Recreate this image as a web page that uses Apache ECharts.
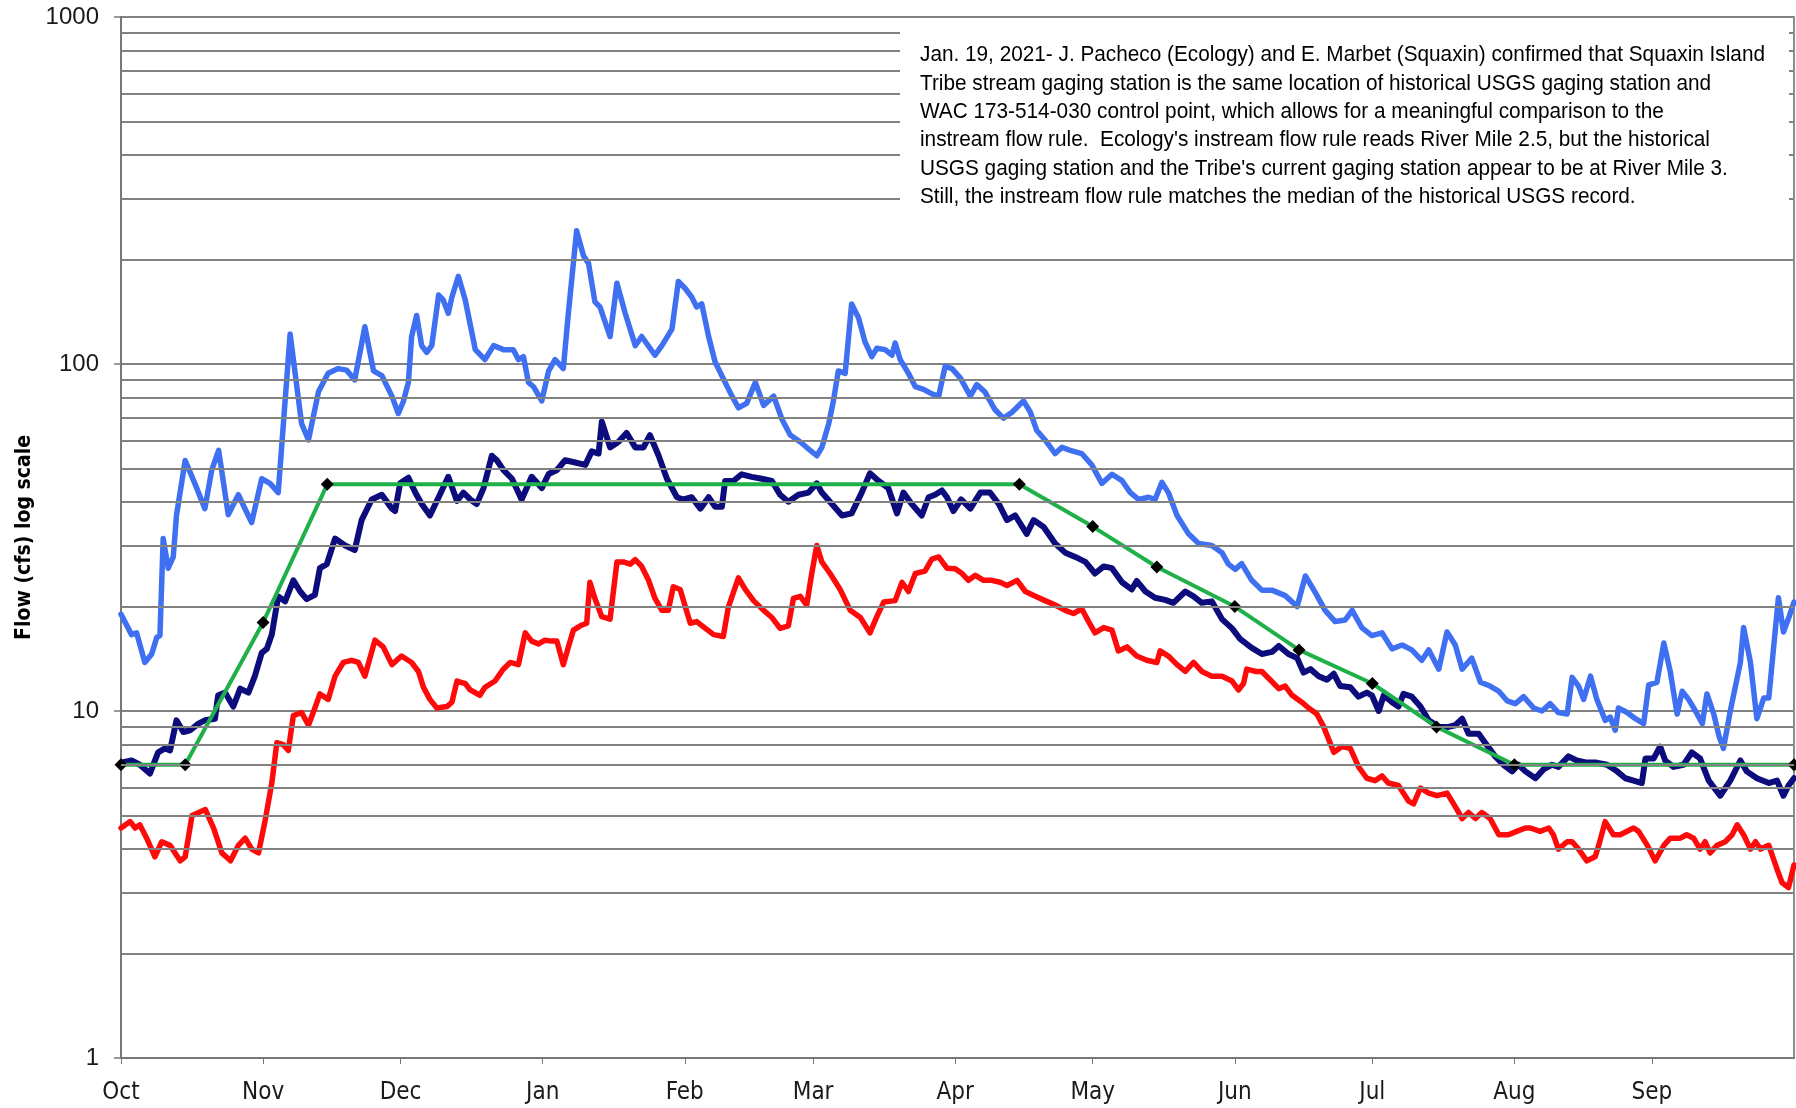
<!DOCTYPE html>
<html>
<head>
<meta charset="utf-8">
<script src="https://cdn.jsdelivr.net/npm/echarts@6/dist/echarts.min.js"></script>
<style>
html,body{margin:0;padding:0;background:#ffffff;}
#chart{width:1796px;height:1108px;}
</style>
</head>
<body>
<div id="chart"></div>
<script>
// ---- Data (x = day of water year, Oct 1 = 0) ----
const monthLabels = ['Oct','Nov','Dec','Jan','Feb','Mar','Apr','May','Jun','Jul','Aug','Sep'];
const monthStartDays = [0,31,61,92,123,151,182,212,243,273,304,334];
const minorGridValues = [2,3,4,5,6,7,8,9,20,30,40,50,60,70,80,90,200,300,400,500,600,700,800,900];

const highFlow = [[0,19.0],[2.3,16.6],[3.4,16.8],[5.2,13.8],[6.7,14.6],[7.8,16.3],[8.5,16.5],[9.2,31.4],[10.3,25.8],[11.4,27.8],[12.1,36.6],[14.0,52.7],[16.1,45.3],[18.3,38.3],[19.8,49.5],[21.3,56.4],[23.4,36.8],[25.6,42.0],[28.5,34.9],[30.7,46.7],[32.5,45.3],[34.3,42.6],[36.9,122],[39.4,67.3],[40.9,60.4],[43.1,83.3],[45.2,94.1],[47.4,97],[49.2,96],[51.0,90],[53.2,128],[55.1,95.5],[56.9,92.6],[59.1,80.8],[60.5,72],[61.6,78],[62.7,88.5],[63.4,120],[64.5,138],[65.6,113],[66.7,108],[67.8,113],[69.3,158],[70.3,153],[71.4,140],[72.2,156],[73.6,179],[75.1,153],[77.3,110],[79.4,103],[81.3,113],[83.4,110],[85.6,110],[86.7,103],[87.8,105],[88.9,88.5],[90,86],[91.8,78.3],[93.3,95.5],[94.7,103],[96.5,97],[97.6,140],[99.4,242],[100.9,205],[102,195],[103.4,151],[104.5,146],[106.7,120],[108.2,171],[110,140],[112.2,113],[113.6,120],[116.5,106],[118,113],[120.2,126],[121.6,173],[123.1,165],[124.5,156],[125.6,146],[126.7,149],[128.2,120],[129.6,101.5],[131.8,88.5],[133.3,80.8],[134.7,74.8],[136.5,77],[138.4,88.5],[140.2,76],[142.4,80.8],[144.2,69.3],[146,62.4],[148.2,59.6],[150,56.9],[151.8,54.4],[152.9,57.5],[154.4,67.3],[155.4,77.9],[156.5,95.5],[158,94],[159.4,149],[160.9,136],[162.3,116],[163.8,105],[164.9,111],[166.7,110],[168.2,106],[168.9,115],[170,103],[171.8,94],[173.3,86],[175.1,84.5],[176.9,82],[178.4,80.8],[179.8,98.5],[181.3,97],[183.1,91.2],[185.3,80.8],[186.7,87.2],[188.5,83],[190.7,73.8],[192.5,69.8],[194.4,72.6],[196.9,78.3],[198.4,72.6],[199.8,64.3],[201.6,60.4],[203.8,55.2],[205.3,57.5],[207.1,56.4],[209.6,55.2],[211.8,51.2],[214,45.3],[216.2,48.1],[218.4,46.1],[220.2,42.6],[222,40.7],[224.2,41.3],[225.6,40.7],[227.1,45.6],[228.5,42.6],[230.4,36.6],[232.9,32.4],[235.1,30.4],[238,30],[240.2,28.6],[241.6,26.5],[243.1,25.6],[244.5,26.6],[246.7,23.8],[248.9,22.3],[251.1,22.3],[254,21.5],[256.6,20],[258.4,24.5],[260.6,21.9],[262.7,19.5],[264.9,18.1],[267.1,18.3],[268.6,19.5],[270.7,17.4],[272.9,16.5],[275.1,16.8],[277.3,15.1],[279.5,15.5],[281.6,15],[283.8,14],[285.3,15],[287.5,13.2],[289.3,16.9],[291.1,15.5],[292.6,13.2],[294.7,14.2],[296.6,12.1],[298.7,11.8],[300.6,11.4],[302.4,10.7],[304.2,10.5],[306,11.0],[308.2,10.2],[310,10.0],[311.8,10.5],[313.6,9.9],[315.5,9.8],[316.6,12.5],[318,11.8],[319.1,10.8],[320.6,12.6],[322,10.8],[323.8,9.4],[324.9,9.6],[326,8.8],[326.7,10.2],[328.6,9.9],[330.4,9.5],[332.2,9.2],[333.3,11.9],[335.1,12.1],[336.6,15.7],[338,13.0],[339.5,9.8],[340.6,11.4],[342,10.8],[343.5,10.0],[345,9.2],[346,11.2],[347.5,9.8],[348.6,8.5],[349.6,7.8],[351.1,10.0],[353.3,13.8],[354,17.4],[355.5,13.8],[356.9,9.5],[358.4,10.9],[359.5,10.9],[360.6,15.5],[361.6,21.2],[362.7,16.9],[363.8,18.5],[365,20.6]];

const medianFlow = [[0,7.1],[2.3,7.2],[4.1,7.0],[6.3,6.6],[8.1,7.6],[9.6,7.8],[10.7,7.7],[12.1,9.4],[13.6,8.7],[15.1,8.8],[16.9,9.2],[18.3,9.4],[20.5,9.5],[21.2,11.1],[22.7,11.3],[24.5,10.3],[26,11.6],[27.8,11.3],[29.2,12.6],[30.7,14.7],[31.8,15.1],[32.9,16.6],[34.3,21.4],[35.8,20.7],[37.6,23.8],[39.1,22.1],[40.5,21],[42.3,21.6],[43.4,25.8],[44.9,26.5],[46.7,31.4],[48.9,30],[51,29.1],[52.5,35.5],[54.7,40.7],[56.9,42],[59.1,38.3],[59.8,37.7],[60.9,45.3],[62.7,47],[64.2,42.6],[65.6,39.5],[67.4,36.6],[69.3,41.3],[71.4,47.3],[73.3,40.3],[74.7,42.6],[76.2,40.7],[77.6,39.5],[79.1,43.9],[80.9,54.4],[82,52.8],[83.4,49.5],[85.3,46.7],[87.4,40.7],[89.6,47.3],[91.8,43.9],[93.3,48.2],[95.1,49.5],[96.9,52.8],[99.1,52],[101.3,51.2],[102.7,56],[104.2,55.2],[104.9,68.2],[106.7,57.5],[108.5,59.6],[110.3,63.3],[112.2,57.5],[114,57.5],[115.4,62.4],[117.3,54.4],[119.1,46.7],[121.3,41.3],[122.7,40.7],[124.5,41.3],[126.4,38.3],[128.2,41.3],[129.6,38.8],[131.1,38.8],[131.8,46],[133.6,46],[135.4,48.1],[137.6,47.3],[139.8,46.7],[142,46],[143.8,42],[145.6,40.1],[147.8,42],[150,42.6],[151.8,45.3],[152.9,42.6],[155.1,39.5],[157.3,36.6],[159.4,37.1],[161.6,42.6],[163.4,48.4],[165.3,46],[167.4,43.9],[169.3,37.1],[170.7,42.6],[172.5,39.5],[174.7,36.6],[176.2,41.3],[177.6,42],[179.1,43.2],[180.2,41.3],[181.6,37.7],[183.3,40.7],[185.3,38.3],[187.5,42.6],[189.6,42.6],[191.5,39.5],[193.3,35.5],[195.1,36.6],[197.6,32.4],[199.1,35.5],[201.3,33.9],[203.8,30.4],[206,28.6],[208.2,27.8],[210.4,26.9],[212.5,24.9],[214.4,26.1],[216.2,25.8],[218.4,23.5],[220.5,22.4],[221.6,23.7],[223.5,22.1],[225.6,21.2],[227.8,20.9],[229.6,20.5],[232.2,22.1],[234,21.4],[235.8,20.5],[238,20.7],[240.2,18.4],[242.4,17.3],[244.2,16.1],[246.7,15.2],[248.9,14.6],[251.1,14.8],[252.6,15.4],[254.7,14.6],[256.6,14.2],[258,12.9],[259.5,13.2],[261.3,12.6],[263.1,12.3],[264.6,12.8],[266,11.8],[268.2,11.7],[270,11.0],[271.8,11.3],[272.9,11.1],[274.4,10.0],[275.5,11.1],[277.3,10.6],[278.7,10.3],[279.8,11.2],[281.6,11.0],[283.5,10.3],[285.3,9.4],[287.5,9.0],[289.6,9.0],[291.1,9.1],[292.6,9.5],[294,8.6],[296.2,8.6],[297.6,8.1],[299.8,7.4],[301.6,7.0],[303.5,6.7],[304.9,7.0],[306.4,6.7],[308.6,6.4],[310.4,6.8],[312.2,7.0],[313.6,6.9],[315.8,7.4],[317.6,7.2],[319.8,7.1],[321.9,7.1],[324.2,7.0],[326.4,6.7],[328.2,6.4],[330,6.3],[331.8,6.2],[332.6,7.3],[334.4,7.3],[335.8,7.9],[336.9,7.2],[338.7,6.9],[340.9,7.0],[342.7,7.6],[344.5,7.3],[346.4,6.3],[348.9,5.7],[351.1,6.3],[353.3,7.2],[354.7,6.7],[356.9,6.4],[359.5,6.2],[361.3,6.3],[362.7,5.7],[363.8,6.1],[365,6.4]];

const lowFlow = [[0,4.6],[2,4.8],[3.1,4.6],[4.1,4.7],[5.6,4.3],[7.4,3.8],[8.9,4.2],[10.7,4.1],[12.9,3.7],[14,3.8],[15.5,5.0],[18.4,5.2],[20.2,4.6],[22,3.9],[23.9,3.7],[25.6,4.1],[27.1,4.3],[28.5,4.0],[30,3.9],[31.4,4.8],[32.9,6.2],[34,8.1],[35.4,8.0],[36.5,7.7],[37.6,9.7],[39.4,9.9],[40.9,9.1],[42.3,10.2],[43.4,11.2],[45.2,10.8],[46.7,12.6],[48.5,13.8],[50.3,14.0],[51.8,13.8],[53.2,12.6],[55.4,16.0],[57.2,15.3],[59.1,13.6],[61.2,14.4],[63.4,13.8],[64.9,13.0],[66,11.7],[67.4,10.8],[68.9,10.2],[71.1,10.3],[72.2,10.6],[73.3,12.2],[75.1,12.0],[76.2,11.5],[78.3,11.1],[79.4,11.7],[81.6,12.2],[83.4,13.2],[84.9,13.8],[86.7,13.6],[88.2,16.8],[89.6,15.9],[91.1,15.6],[92.5,16.0],[94,15.9],[95.1,15.9],[96.5,13.6],[97.6,15.3],[98.7,17.1],[100.2,17.6],[101.6,17.9],[102.3,23.5],[103.4,21.1],[104.9,18.7],[106.7,18.4],[108.2,26.9],[109.6,26.9],[111.1,26.5],[112.2,27.3],[113.6,26.1],[115.1,23.8],[116.5,21.1],[118,19.5],[119.4,19.5],[120.5,22.8],[122,22.4],[123.1,20],[124.2,17.9],[125.6,18.1],[127.5,17.3],[129.3,16.6],[131.4,16.4],[132.5,19.9],[134.7,24.2],[136.2,22.4],[138,20.8],[140.2,19.5],[142,18.6],[143.8,17.3],[145.6,17.6],[146.7,21.1],[148.2,21.4],[149.6,20.2],[150.7,24.9],[151.8,30],[152.9,26.9],[154.7,24.9],[156.9,22.4],[159.1,19.5],[161.3,18.6],[163.4,16.8],[164.9,18.7],[166.4,20.6],[168.9,20.8],[170.4,23.5],[171.8,22.1],[173.3,24.9],[175.4,25.3],[176.9,27.4],[178.4,27.8],[180.2,25.8],[182,25.7],[183.5,24.9],[184.9,23.8],[186.4,24.6],[188.2,23.8],[190,23.8],[191.8,23.5],[193.3,23],[195.5,23.8],[197.3,22.1],[199.5,21.4],[201.6,20.8],[203.8,20.2],[206,19.5],[207.8,19.1],[209.6,19.7],[211.1,18.1],[212.5,16.8],[214.4,17.4],[216.2,17.1],[217.6,14.9],[219.5,15.3],[221.6,14.4],[223.8,14.0],[226,13.8],[226.7,14.9],[228.5,14.4],[230.4,13.6],[232.2,13.0],[234,13.8],[235.8,13.0],[238,12.6],[240.2,12.6],[242.4,12.2],[243.8,11.5],[244.9,12.0],[245.6,13.2],[247.5,13.0],[248.9,13.0],[250.7,12.3],[252.6,11.6],[254,11.8],[255.5,11.1],[257.6,10.6],[259.1,10.2],[260.9,9.8],[262.4,9.0],[264.6,7.6],[266.4,7.9],[268.2,7.8],[270,6.9],[271.8,6.4],[273.6,6.3],[275.1,6.5],[276.5,6.2],[278.7,6.1],[280.9,5.5],[282,5.4],[283.5,6.0],[285.3,5.8],[287.1,5.7],[289.3,5.8],[291.1,5.3],[292.6,4.9],[294,5.1],[295.5,4.9],[296.9,5.1],[298.7,4.9],[300.6,4.4],[302.7,4.4],[304.5,4.5],[306.4,4.6],[307.5,4.6],[309.6,4.5],[311.5,4.6],[312.5,4.4],[313.6,4.0],[315.5,4.2],[316.6,4.2],[318,4.0],[319.8,3.7],[321.6,3.8],[322.4,4.1],[323.8,4.8],[325.6,4.4],[327.1,4.4],[328.6,4.5],[330,4.6],[331.1,4.5],[333,4.1],[334.7,3.7],[336.6,4.1],[338,4.3],[340.2,4.3],[341.6,4.4],[343.1,4.3],[344.5,4.0],[345.6,4.2],[346.7,3.9],[348.2,4.1],[350,4.2],[351.5,4.4],[352.6,4.7],[354,4.4],[355.5,4.0],[356.6,4.2],[357.7,4.0],[359.5,4.1],[361.3,3.5],[362.4,3.2],[363.8,3.1],[365,3.6]];

const ruleDays = [0,14,31,45,196,212,226,243,257,273,287,304,365];
const ruleValues = [7,7,18,45,45,34,26,20,15,12,9,7,7];

const noteLines = [
  "Jan. 19, 2021- J. Pacheco (Ecology) and E. Marbet (Squaxin) confirmed that Squaxin Island",
  "Tribe stream gaging station is the same location of historical USGS gaging station and",
  "WAC 173-514-030 control point, which allows for a meaningful comparison to the",
  "instream flow rule.  Ecology's instream flow rule reads River Mile 2.5, but the historical",
  "USGS gaging station and the Tribe's current gaging station appear to be at River Mile 3.",
  "Still, the instream flow rule matches the median of the historical USGS record."
];
const yAxisTitle = 'Flow (cfs) log scale';

// ---- Chart ----
const labelFont = '"DejaVu Sans Condensed", "Liberation Sans", sans-serif';
const noteFontFamily = '"Liberation Sans", Arial, sans-serif';
const noteFontSize = 22;
const noteTargetWidth = 845; // width of the first note line in the reference
const gridColor = '#828282';

// horizontal squeeze so the regular font matches the narrow font of the reference
const mctx = document.createElement('canvas').getContext('2d');
mctx.font = noteFontSize + 'px ' + noteFontFamily;
const noteScaleX = noteTargetWidth / mctx.measureText(noteLines[0]).width;

const chart = echarts.init(document.getElementById('chart'), null, {renderer: 'canvas'});
const ruleData = ruleDays.map((d, i) => [d, ruleValues[i]]);

const option = {
  animation: false,
  backgroundColor: '#ffffff',
  grid: {left: 121, top: 17, right: 2, bottom: 50, show: true, borderColor: gridColor, borderWidth: 1.8},
  xAxis: {
    type: 'value', min: 0, max: 365,
    axisLine: {show: true, onZero: false, lineStyle: {color: '#787878', width: 2}},
    axisTick: {show: true, customValues: monthStartDays, length: 6, lineStyle: {color: '#787878', width: 1}},
    axisLabel: {
      customValues: monthStartDays,
      formatter: v => monthLabels[monthStartDays.indexOf(v)] || '',
      fontFamily: labelFont, fontSize: 24, color: '#1a1a1a', margin: 23
    },
    splitLine: {show: false}
  },
  yAxis: {
    type: 'log', logBase: 10, min: 1, max: 1000,
    name: yAxisTitle, nameLocation: 'middle', nameGap: 84,
    nameTextStyle: {fontFamily: labelFont, fontWeight: 'bold', fontSize: 21, color: '#000'},
    axisLine: {show: true, lineStyle: {color: '#787878', width: 2}},
    axisTick: {show: true, length: 7, lineStyle: {color: '#787878', width: 1.5}},
    axisLabel: {
      formatter: v => String(Math.round(v)),
      fontFamily: '"Liberation Sans", Arial, sans-serif', fontSize: 24, color: '#1a1a1a', margin: 22
    },
    splitLine: {show: true, lineStyle: {color: gridColor, width: 1.8}},
    minorTick: {show: false}
  },
  series: [
    {
      name: 'grid', type: 'line', data: [], z: 1, silent: true,
      markLine: {
        silent: true, symbol: ['none', 'none'], label: {show: false},
        lineStyle: {color: gridColor, width: 1.8, type: 'solid'},
        emphasis: {disabled: true},
        data: minorGridValues.map(v => ({yAxis: v}))
      }
    },
    {name: 'High', type: 'line', data: highFlow, showSymbol: false, z: 3,
     lineStyle: {color: '#3f70f2', width: 5.5, join: 'round', cap: 'round'}, itemStyle: {color: '#3f70f2'}},
    {name: 'Median', type: 'line', data: medianFlow, showSymbol: false, z: 3,
     lineStyle: {color: '#0c0c7c', width: 6, join: 'round', cap: 'round'}, itemStyle: {color: '#0c0c7c'}},
    {name: 'Low', type: 'line', data: lowFlow, showSymbol: false, z: 3,
     lineStyle: {color: '#ff0a0a', width: 5.5, join: 'round', cap: 'round'}, itemStyle: {color: '#ff0a0a'}},
    {name: 'Instream flow rule', type: 'line', data: ruleData, z: 4,
     symbol: 'diamond', symbolSize: 13, showSymbol: true,
     lineStyle: {color: '#1fb04a', width: 4}, itemStyle: {color: '#000000', borderWidth: 0}}
  ],
  graphic: [
    {type: 'rect', z: 100, shape: {x: 900, y: 22, width: 889, height: 188}, style: {fill: '#ffffff'}},
    {type: 'text', z: 101, x: 920, y: 41, scaleX: noteScaleX,
     style: {text: noteLines.join('\n'), fontFamily: noteFontFamily, fontSize: noteFontSize, lineHeight: 28.4, fill: '#000000'}}
  ]
};
chart.setOption(option);
</script>
</body>
</html>
